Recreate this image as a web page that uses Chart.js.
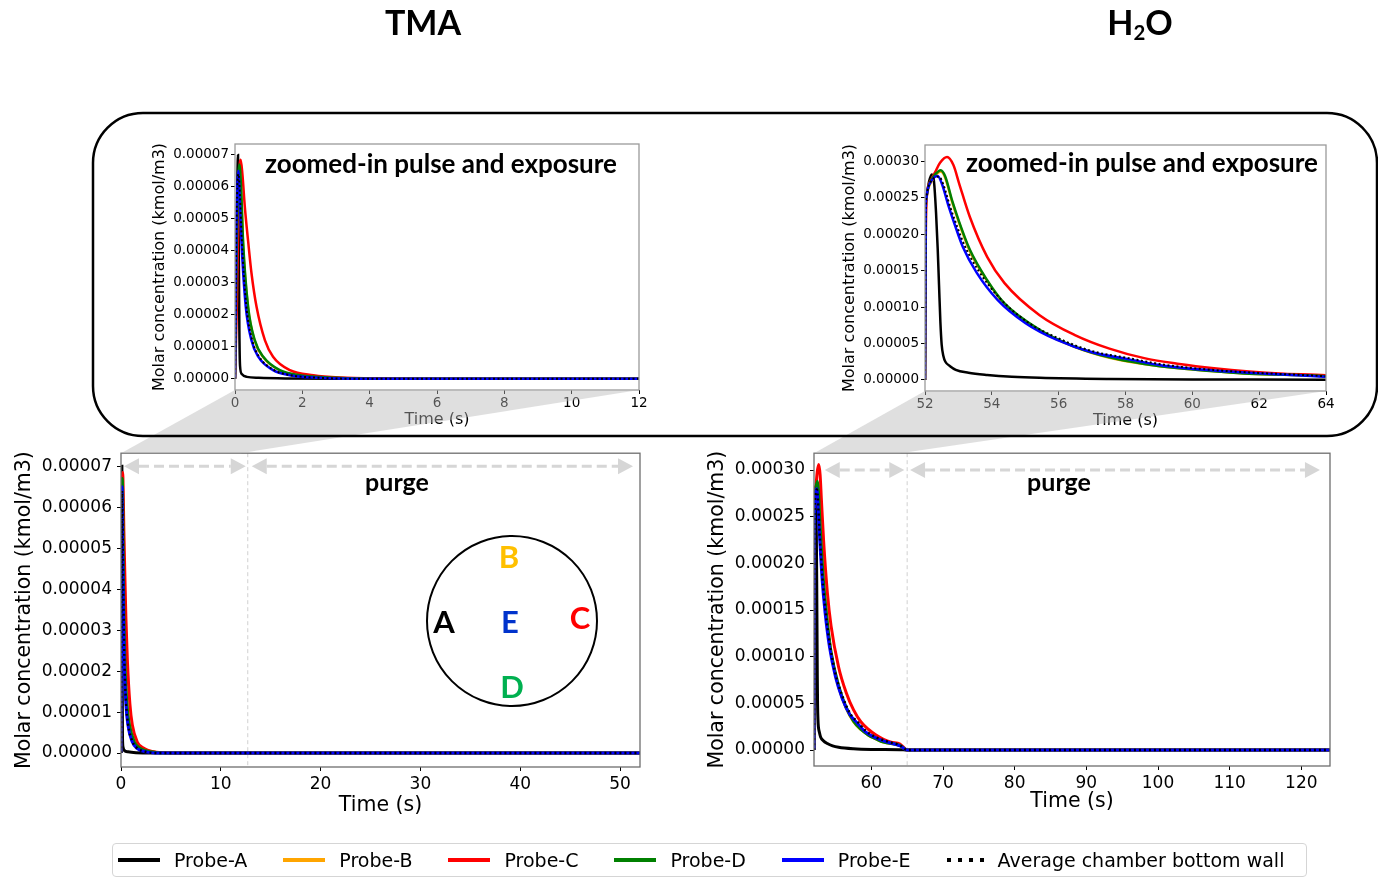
<!DOCTYPE html>
<html>
<head>
<meta charset="utf-8">
<script src="https://cdn.jsdelivr.net/npm/chart.js@4.4.1/dist/chart.umd.min.js"></script>
<style>
  html, body { margin: 0; padding: 0; background: #fff; }
  #page { position: relative; width: 1378px; height: 888px; overflow: hidden; font-family: Lato, sans-serif; }
  canvas { position: absolute; }
  svg { position: absolute; left: 0; top: 0; pointer-events: none; }
  .lbl { position: absolute; font-weight: bold; color: #000; white-space: nowrap; line-height: 1; transform: translate(-50%, -50%); }
  #legend { position: absolute; left: 112px; top: 843px; width: 1195px; height: 34px; box-sizing: border-box;
            border: 1.5px solid #d5d5d5; border-radius: 4px; display: flex; align-items: center; padding-left: 5px;
            font-family: 'DejaVu Sans', sans-serif; font-size: 19px; color: #000; white-space: nowrap; }
  #legend .item { display: flex; align-items: center; margin-right: 36px; flex-shrink: 0; white-space: nowrap; }
  #legend .swatch { display: inline-block; width: 42px; height: 4px; margin-right: 14px; flex-shrink: 0; }
</style>
</head>
<body>
<div id="page">
  <canvas id="tmaZoom"></canvas>
  <canvas id="h2oZoom"></canvas>
  <canvas id="tmaMain"></canvas>
  <canvas id="h2oMain"></canvas>

  <svg width="1378" height="888">
    <polygon id="linkTma" fill="rgba(185,185,185,0.45)" points=""></polygon>
    <polygon id="linkH2o" fill="rgba(185,185,185,0.45)" points=""></polygon>
    <rect x="93" y="113" width="1284" height="323" rx="50" ry="50" fill="none" stroke="#000" stroke-width="2.5"></rect>
    <circle cx="512" cy="621" r="85" fill="none" stroke="#000" stroke-width="2"></circle>
  </svg>

  <div class="lbl" style="left:423px;top:22px;font-size:34px;">TMA</div>
  <div class="lbl" style="left:1140px;top:24px;font-size:34px;">H<sub style="font-size:60%;vertical-align:-0.25em;">2</sub>O</div>
  <div class="lbl" style="left:441px;top:163px;font-size:26px;">zoomed-in pulse and exposure</div>
  <div class="lbl" style="left:1142px;top:162px;font-size:26px;">zoomed-in pulse and exposure</div>
  <div class="lbl" style="left:397px;top:481px;font-size:25px;">purge</div>
  <div class="lbl" style="left:1059px;top:481px;font-size:25px;">purge</div>

  <div class="lbl" style="left:444px;top:621px;font-size:31px;color:#000;">A</div>
  <div class="lbl" style="left:509px;top:556px;font-size:31px;color:#FFC000;">B</div>
  <div class="lbl" style="left:580px;top:617px;font-size:31px;color:#FF0000;">C</div>
  <div class="lbl" style="left:510px;top:621px;font-size:31px;color:#0033CC;">E</div>
  <div class="lbl" style="left:512px;top:686px;font-size:31px;color:#00B050;">D</div>

  <div id="legend"></div>
</div>

<script>
// series names and colours
const seriesNames = ['Probe-A', 'Probe-B', 'Probe-C', 'Probe-D', 'Probe-E', 'Average chamber bottom wall'];
const seriesColors = ['#000000', '#FFA500', '#FF0000', '#008000', '#0000FF', '#000000'];

// TMA pulse, [time (s), molar concentration (kmol/m3)]
const tmaProbeA = [[0,0],[0.04,3.5e-5],[0.09,7.0e-5],[0.11,4.5e-5],[0.13,1.5e-5],[0.15,4e-6],[0.2,1.5e-6],[0.35,6e-7],[0.7,3e-7],[1.5,1e-7],[3,0],[52,0]];
const tmaProbeB = [[0,0],[0.05,3.9e-5],[0.13,6.6e-5],[0.18,5.9e-5],[0.24,4.2e-5],[0.39,2.2e-5],[0.59,1.17e-5],[0.84,6.7e-6],[1.33,2.6e-6],[1.93,1.05e-6],[3,3e-7],[4.5,0],[52,0]];
const tmaProbeC = [[0,0],[0.06,2.5e-5],[0.12,6.2e-5],[0.17,6.85e-5],[0.22,6.4e-5],[0.29,5.4e-5],[0.39,4.3e-5],[0.49,3.3e-5],[0.64,2.25e-5],[0.89,1.2e-5],[1.13,6.9e-6],[1.63,2.7e-6],[2.33,1.1e-6],[3.1,4e-7],[4.5,1e-7],[6,0],[52,0]];
const tmaProbeD = [[0,0],[0.05,4e-5],[0.13,6.7e-5],[0.18,6.0e-5],[0.24,4.3e-5],[0.39,2.25e-5],[0.59,1.2e-5],[0.84,6.9e-6],[1.33,2.7e-6],[1.93,1.1e-6],[3,3e-7],[4.5,0],[52,0]];
const tmaProbeE = [[0,0],[0.04,4.5e-5],[0.1,6.5e-5],[0.14,5.6e-5],[0.19,4.3e-5],[0.32,2.25e-5],[0.49,1.2e-5],[0.69,6.9e-6],[1.13,2.7e-6],[1.63,1.1e-6],[2.5,3e-7],[4,0],[52,0]];
const tmaAverage = [[0,0],[0.04,4.5e-5],[0.1,6.4e-5],[0.15,5.7e-5],[0.2,4.4e-5],[0.33,2.35e-5],[0.5,1.25e-5],[0.7,7.2e-6],[1.15,2.8e-6],[1.65,1.15e-6],[2.5,3e-7],[4,0],[52,0]];

// H2O pulse, [time (s), molar concentration (kmol/m3)]
const h2oProbeA = [[52,0],[52.01,2.45e-4],[52.05,2.55e-4],[52.12,2.72e-4],[52.2,2.82e-4],[52.27,2.72e-4],[52.33,2.3e-4],[52.38,1.8e-4],[52.42,1.3e-4],[52.46,8e-5],[52.5,4.8e-5],[52.55,3.3e-5],[52.61,2.5e-5],[52.75,1.9e-5],[52.92,1.4e-5],[53.3,1.0e-5],[53.86,7e-6],[54.6,4.5e-6],[55.43,3e-6],[57.5,1.4e-6],[60,7e-7],[64,4e-7],[65,0],[124,0]];
const h2oProbeB = [[52,0],[52.02,2.28e-4],[52.04,2.48e-4],[52.1,2.63e-4],[52.2,2.73e-4],[52.3,2.8e-4],[52.47,2.86e-4],[52.6,2.78e-4],[52.82,2.43e-4],[53.0,2.18e-4],[53.34,1.77e-4],[53.86,1.36e-4],[54.38,1.04e-4],[55.43,6.8e-5],[56.47,4.55e-5],[57.52,3.05e-5],[58.56,2.2e-5],[59.61,1.6e-5],[60.65,1.2e-5],[61.7,8.5e-6],[64,5e-6],[65,0],[124,0]];
const h2oProbeC = [[52,0],[52.02,1.8e-4],[52.05,2.5e-4],[52.15,2.72e-4],[52.3,2.85e-4],[52.45,2.98e-4],[52.66,3.06e-4],[52.85,2.95e-4],[53.02,2.70e-4],[53.34,2.24e-4],[53.86,1.69e-4],[54.38,1.33e-4],[55.43,8.9e-5],[56.47,6.2e-5],[57.52,4.3e-5],[58.56,3.0e-5],[59.61,2.2e-5],[60.65,1.6e-5],[61.7,1.15e-5],[62.75,8.5e-6],[64,6.5e-6],[65,0],[124,0]];
const h2oProbeD = [[52,0],[52.02,2.3e-4],[52.04,2.5e-4],[52.1,2.65e-4],[52.2,2.75e-4],[52.3,2.82e-4],[52.47,2.88e-4],[52.6,2.8e-4],[52.82,2.45e-4],[53.0,2.2e-4],[53.34,1.79e-4],[53.86,1.37e-4],[54.38,1.05e-4],[55.43,6.9e-5],[56.47,4.6e-5],[57.52,3.1e-5],[58.56,2.2e-5],[59.61,1.6e-5],[60.65,1.2e-5],[61.7,8.5e-6],[64,5e-6],[65,0],[124,0]];
const h2oProbeE = [[52,0],[52.02,2.3e-4],[52.04,2.5e-4],[52.1,2.65e-4],[52.2,2.74e-4],[52.3,2.79e-4],[52.38,2.8e-4],[52.5,2.7e-4],[52.71,2.38e-4],[52.9,2.12e-4],[53.13,1.83e-4],[53.55,1.47e-4],[54.17,1.10e-4],[55.01,7.8e-5],[55.95,5.5e-5],[57.0,3.8e-5],[58.04,2.9e-5],[59.09,2.0e-5],[60.65,1.3e-5],[62.23,8.5e-6],[64,4.5e-6],[65,0],[124,0]];
const h2oAverage = [[52,0],[52.02,2.3e-4],[52.04,2.5e-4],[52.1,2.65e-4],[52.2,2.74e-4],[52.3,2.78e-4],[52.42,2.79e-4],[52.55,2.68e-4],[52.75,2.38e-4],[52.95,2.12e-4],[53.18,1.85e-4],[53.6,1.5e-4],[54.22,1.13e-4],[55.05,8.0e-5],[56.0,5.7e-5],[57.05,3.9e-5],[58.1,3.0e-5],[59.15,2.1e-5],[60.7,1.35e-5],[62.3,9e-6],[64,5e-6],[65,0],[124,0]];

const tmaSeries = [tmaProbeA, tmaProbeB, tmaProbeC, tmaProbeD, tmaProbeE, tmaAverage];
const h2oSeries = [h2oProbeA, h2oProbeB, h2oProbeC, h2oProbeD, h2oProbeE, h2oAverage];

// exposure / purge phases (s)
const tmaPhaseEnd = 12.7;
const tmaArrows = [[0.3, 12.5], [13.1, 51.3]];
const h2oPhaseEnd = 65;
const h2oArrows = [[53.5, 64.6], [65.4, 122.6]];

Chart.defaults.font.family = "'DejaVu Sans', sans-serif";
Chart.defaults.color = '#000';

const framePlugin = {
    id: 'frame',
    afterDatasetsDraw(chart, args, opts) {
        const a = chart.chartArea;
        const ctx = chart.ctx;
        ctx.save();
        ctx.strokeStyle = opts.color;
        ctx.lineWidth = opts.width;
        ctx.strokeRect(a.left, a.top, a.right - a.left, a.bottom - a.top);
        ctx.restore();
    }
};

const phasePlugin = {
    id: 'phases',
    beforeDatasetsDraw(chart, args, opts) {
        if (!opts.arrows) return;
        const ctx = chart.ctx;
        const a = chart.chartArea;
        const x = chart.scales.x, y = chart.scales.y;
        ctx.save();
        const bx = x.getPixelForValue(opts.boundary);
        ctx.strokeStyle = '#d0d0d0';
        ctx.lineWidth = 1;
        ctx.setLineDash([4, 3]);
        ctx.beginPath();
        ctx.moveTo(bx, a.top);
        ctx.lineTo(bx, a.bottom);
        ctx.stroke();

        const ay = y.getPixelForValue(opts.arrowY);
        const hl = 15, hw = 8;
        opts.arrows.forEach(function(r) {
            const x0 = x.getPixelForValue(r[0]);
            const x1 = x.getPixelForValue(r[1]);
            ctx.strokeStyle = '#d6d6d6';
            ctx.fillStyle = '#d6d6d6';
            ctx.lineWidth = 3;
            ctx.setLineDash([10, 5]);
            ctx.beginPath();
            ctx.moveTo(x0 + hl, ay);
            ctx.lineTo(x1 - hl, ay);
            ctx.stroke();
            ctx.setLineDash([]);
            ctx.beginPath();
            ctx.moveTo(x0, ay); ctx.lineTo(x0 + hl, ay - hw); ctx.lineTo(x0 + hl, ay + hw);
            ctx.closePath(); ctx.fill();
            ctx.beginPath();
            ctx.moveTo(x1, ay); ctx.lineTo(x1 - hl, ay - hw); ctx.lineTo(x1 - hl, ay + hw);
            ctx.closePath(); ctx.fill();
        });
        ctx.restore();
    }
};

function buildDatasets(series, lw, dash) {
    return series.map(function(s, i) {
        return {
            label: seriesNames[i],
            data: s.map(p => ({ x: p[0], y: p[1] })),
            borderColor: seriesColors[i],
            borderWidth: i === 5 ? lw - 0.5 : lw,
            borderDash: i === 5 ? dash : [],
            pointRadius: 0,
            cubicInterpolationMode: 'monotone',
            fill: false,
            order: 5 - i
        };
    });
}

function makeChart(id, g, series) {
    const lh = g.titleSize * 1.2;
    const left = Math.round(g.ytitleX - lh / 2 - 4);
    const top = g.T - 14;
    const yw = g.L - left;
    const xh = Math.round(g.xtitleY + lh / 2 + 4 - g.B);
    const w = g.R + 16 - left;
    const h = g.B + xh - top;

    const cv = document.getElementById(id);
    cv.width = w; cv.height = h;
    cv.style.width = w + 'px'; cv.style.height = h + 'px';
    cv.style.left = left + 'px'; cv.style.top = top + 'px';

    const tickFont = { family: "'DejaVu Sans', sans-serif", size: g.tickSize };
    const titleFont = { family: "'DejaVu Sans', sans-serif", size: g.titleSize };

    const chart = new Chart(cv, {
        type: 'line',
        data: { datasets: buildDatasets(series, g.lineWidth, g.dash) },
        options: {
            responsive: false,
            animation: false,
            events: [],
            layout: { padding: { top: 14, right: 16, left: 0, bottom: 0 } },
            scales: {
                x: {
                    type: 'linear',
                    min: g.xMin, max: g.xMax,
                    afterFit: function(axis) { axis.height = xh; },
                    border: { display: false },
                    grid: { drawOnChartArea: false, drawTicks: true, tickLength: 4, tickColor: '#000', tickWidth: 1 },
                    ticks: { stepSize: g.xStep, includeBounds: false, autoSkip: false, maxRotation: 0,
                             color: '#000', font: tickFont, padding: g.xTickPad,
                             callback: v => String(v) },
                    title: { display: true, text: 'Time (s)', color: '#000', font: titleFont, padding: { top: 0, bottom: 4 } }
                },
                y: {
                    type: 'linear',
                    min: g.yMin, max: g.yMax,
                    afterFit: function(axis) { axis.width = yw; },
                    border: { display: false },
                    grid: { drawOnChartArea: false, drawTicks: true, tickLength: 4, tickColor: '#000', tickWidth: 1 },
                    ticks: { stepSize: g.yStep, includeBounds: false, autoSkip: false,
                             color: '#000', font: tickFont, padding: g.yTickPad,
                             callback: v => (Math.abs(v) < 1e-12 ? 0 : v).toFixed(5) },
                    title: { display: true, text: 'Molar concentration (kmol/m3)', color: '#000', font: titleFont, padding: { top: 4, bottom: 0 } }
                }
            },
            plugins: {
                legend: { display: false },
                tooltip: { enabled: false },
                frame: { color: g.frameColor, width: 1.3 },
                phases: g.phases || {}
            }
        },
        plugins: [framePlugin, phasePlugin]
    });
    chart.offsetLeft = left;
    chart.offsetTop = top;
    return chart;
}

const tmaZoom = makeChart('tmaZoom', {
    L: 235, T: 144, R: 639, B: 390, ytitleX: 160, xtitleY: 419,
    titleSize: 16, tickSize: 13.5, xTickPad: 1, yTickPad: 2, lineWidth: 2.5, dash: [2, 2.5],
    xMin: 0, xMax: 12, xStep: 2, yMin: -0.0000035, yMax: 0.0000734, yStep: 0.00001,
    frameColor: '#9a9a9a'
}, tmaSeries);

const h2oZoom = makeChart('h2oZoom', {
    L: 925, T: 145, R: 1326, B: 391, ytitleX: 850, xtitleY: 420,
    titleSize: 16, tickSize: 13.5, xTickPad: 1, yTickPad: 2, lineWidth: 2.5, dash: [2, 2.5],
    xMin: 52, xMax: 64, xStep: 2, yMin: -0.0000151, yMax: 0.0003225, yStep: 0.00005,
    frameColor: '#9a9a9a'
}, h2oSeries);

const tmaMain = makeChart('tmaMain', {
    L: 121, T: 452, R: 640, B: 767, ytitleX: 24, xtitleY: 806,
    titleSize: 20.5, tickSize: 17, xTickPad: 3, yTickPad: 5, lineWidth: 3, dash: [2, 3],
    xMin: 0, xMax: 52, xStep: 10, yMin: -0.0000034, yMax: 0.0000732, yStep: 0.00001,
    frameColor: '#6e6e6e',
    phases: { boundary: tmaPhaseEnd, arrows: tmaArrows, arrowY: 0.00007 }
}, tmaSeries);

const h2oMain = makeChart('h2oMain', {
    L: 814, T: 452, R: 1330, B: 766, ytitleX: 717, xtitleY: 802,
    titleSize: 20.5, tickSize: 17, xTickPad: 3, yTickPad: 5, lineWidth: 3, dash: [2, 3],
    xMin: 52, xMax: 124, xStep: 10, yMin: -0.0000171, yMax: 0.000318, yStep: 0.00005,
    frameColor: '#6e6e6e',
    phases: { boundary: h2oPhaseEnd, arrows: h2oArrows, arrowY: 0.0003 }
}, h2oSeries);

// grey wedges linking each zoomed inset to its range on the full chart
function linkPoints(inset, main, t0, t1) {
    const ia = inset.chartArea, ma = main.chartArea;
    const ix = inset.offsetLeft, iy = inset.offsetTop;
    const mx = main.offsetLeft, my = main.offsetTop;
    const pts = [
        [ix + ia.left, iy + ia.bottom],
        [ix + ia.right, iy + ia.bottom],
        [mx + main.scales.x.getPixelForValue(t1), my + ma.top],
        [mx + main.scales.x.getPixelForValue(t0), my + ma.top]
    ];
    return pts.map(p => p[0].toFixed(1) + ',' + p[1].toFixed(1)).join(' ');
}
document.getElementById('linkTma').setAttribute('points', linkPoints(tmaZoom, tmaMain, 0, 12));
document.getElementById('linkH2o').setAttribute('points', linkPoints(h2oZoom, h2oMain, 52, 64));

// shared legend
const legend = document.getElementById('legend');
seriesNames.forEach(function(name, i) {
    const item = document.createElement('div');
    item.className = 'item';
    const sw = document.createElement('span');
    sw.className = 'swatch';
    if (i === 5) {
        sw.style.width = '37px';
        sw.style.background = 'repeating-linear-gradient(90deg, #000 0 4px, transparent 4px 11px)';
    } else {
        sw.style.background = seriesColors[i];
    }
    const txt = document.createElement('span');
    txt.textContent = name;
    item.appendChild(sw);
    item.appendChild(txt);
    legend.appendChild(item);
});
</script>
</body>
</html>
